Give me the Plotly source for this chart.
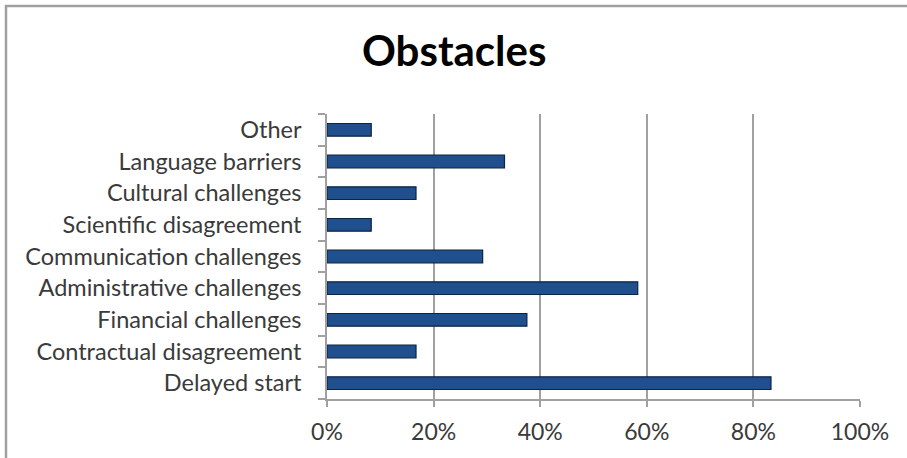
import plotly.graph_objects as go

# Survey responses: share of projects reporting each obstacle (n = 24)
categories = [
    "Delayed start",
    "Contractual disagreement",
    "Financial challenges",
    "Administrative challenges",
    "Communication challenges",
    "Scientific disagreement",
    "Cultural challenges",
    "Language barriers",
    "Other",
]
shares = [83.3, 16.7, 37.5, 58.3, 29.2, 8.3, 16.7, 33.3, 8.3]

x_ticks = [0, 20, 40, 60, 80, 100]
x_tick_labels = ["0%", "20%", "40%", "60%", "80%", "100%"]

W, H = 907, 458
L, R, T, B = 327, 47, 114, 59

FONT = "Lato"
TEXT = "#3a3a3a"
GRID = "#a0a0a0"

fig = go.Figure()

fig.add_trace(go.Bar(
    y=categories,
    x=shares,
    orientation="h",
    marker=dict(color="#1f4f8c", line=dict(color="#0b2545", width=1.2)),
    hoverinfo="x+y",
))

fig.update_layout(
    width=W,
    height=H,
    margin=dict(l=L, r=R, t=T, b=B),
    paper_bgcolor="white",
    plot_bgcolor="white",
    showlegend=False,
    bargap=0.6,
    font=dict(family=FONT, size=23.5, color=TEXT),
    xaxis=dict(
        range=[0, 100],
        tickvals=x_ticks,
        ticktext=x_tick_labels,
        showgrid=True,
        gridcolor=GRID,
        gridwidth=1.6,
        showline=True,
        linecolor=GRID,
        linewidth=1.6,
        ticks="outside",
        ticklen=6,
        tickcolor=GRID,
        tickwidth=1.6,
        ticklabelstandoff=6,
        tickfont=dict(size=23),
        zeroline=False,
        fixedrange=True,
    ),
    yaxis=dict(
        type="category",
        categoryorder="array",
        categoryarray=categories,
        tickson="boundaries",
        showgrid=False,
        showline=True,
        linecolor=GRID,
        linewidth=1.6,
        ticks="outside",
        ticklen=7,
        tickcolor=GRID,
        tickwidth=1.6,
        ticklabelstandoff=19,
        fixedrange=True,
    ),
    annotations=[
        dict(
            text="<b>Obstacles</b>",
            xref="paper", yref="paper",
            x=(W / 2 - L) / (W - L - R),
            y=(H - B - 50) / (H - T - B),
            xanchor="center", yanchor="middle",
            showarrow=False,
            font=dict(family=FONT, size=42, color="black"),
        )
    ],
    shapes=[
        # outer chart frame
        dict(
            type="rect",
            xref="paper", yref="paper",
            x0=(6 - L) / (W - L - R), x1=(W + 4 - L) / (W - L - R),
            y0=(H - B - (H + 4)) / (H - T - B), y1=(H - B - 6) / (H - T - B),
            line=dict(color="#a0a0a0", width=2.5),
            fillcolor="rgba(0,0,0,0)",
            layer="below",
        )
    ],
)

fig.write_html("out.html")
